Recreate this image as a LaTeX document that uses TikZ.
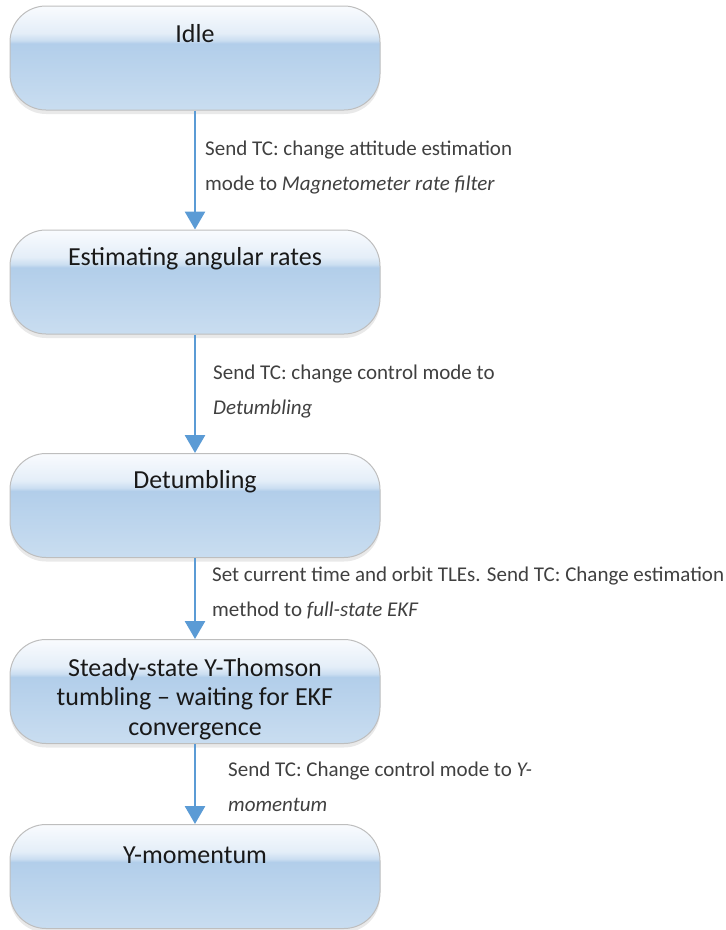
\documentclass[tikz,border=0pt]{standalone}
\usepackage{fontspec}
\setmainfont{Carlito}
\usepackage{tikz}
\usetikzlibrary{arrows.meta,shadows}
\definecolor{glossA}{RGB}{201,221,240}
\definecolor{glossB}{RGB}{178,206,234}
\definecolor{glossC}{RGB}{203,222,241}
\definecolor{glossD}{RGB}{228,238,248}
\definecolor{glossE}{RGB}{249,251,254}
\definecolor{flowblue}{RGB}{91,155,213}
\definecolor{boxline}{RGB}{190,190,190}
\definecolor{lbltext}{RGB}{64,64,64}
\pgfdeclareverticalshading{glossy}{100bp}{color(0bp)=(glossA); color(25bp)=(glossA); color(57bp)=(glossB); color(58.5bp)=(glossC); color(62bp)=(glossD); color(75bp)=(glossE); color(100bp)=(glossE)}

\begin{document}
\begin{tikzpicture}[x=1pt,y=-1pt,
  state/.style={rectangle,rounded corners=36pt,draw=boxline,line width=1pt,shading=glossy,minimum width=370pt,minimum height=104pt,inner sep=0pt,
    drop shadow={shadow xshift=0pt,shadow yshift=-4pt,opacity=.12,fill=black!70}},
  statetext/.style={font=\fontsize{26}{29.5}\selectfont,text=black!90,align=center,inner sep=0pt},
  lbl/.style={font=\fontsize{21}{35}\selectfont,text=lbltext,align=left,anchor=west,inner sep=0pt},
  flow/.style={draw=flowblue,line width=2.8pt,-{Triangle[width=20pt,length=18pt]}}]
\useasboundingbox (0,0) rectangle (726,930);
\node[state](idle)at(195,58){};
\node[state](rates)at(195,282){};
\node[state](detumb)at(195,505.5){};
\node[state](steady)at(195,691.5){};
\node[state](ymom)at(195,876.5){};
\node[statetext,anchor=base](idleT)at(195,42){Idle};
\node[statetext,anchor=base](ratesT)at(195,265){Estimating angular rates};
\node[statetext,anchor=base](detumbT)at(195,488){Detumbling};
\node[statetext](steadyT)at(195,699){Steady-state Y-Thomson\\tumbling -- waiting for EKF\\convergence};
\node[statetext,anchor=base](ymomT)at(195,863){Y-momentum};
\draw[flow](idle)--(rates);
\draw[flow](rates)--(detumb);
\draw[flow](detumb)--(steady);
\draw[flow](steady)--(ymom);
\node[lbl](l1)at(205,168){Send TC: change attitude estimation\\mode to \textit{Magnetometer rate filter}};
\node[lbl](l2)at(213,392){Send TC: change control mode to\\\textit{Detumbling}};
\node[lbl](l3)at(212,593){Set current time and orbit TLEs. Send TC: Change estimation\\method to \textit{full-state EKF}};
\node[lbl](l4)at(228,787){Send TC: Change control mode to \textit{Y-}\\\textit{momentum}};
\end{tikzpicture}
\end{document}
